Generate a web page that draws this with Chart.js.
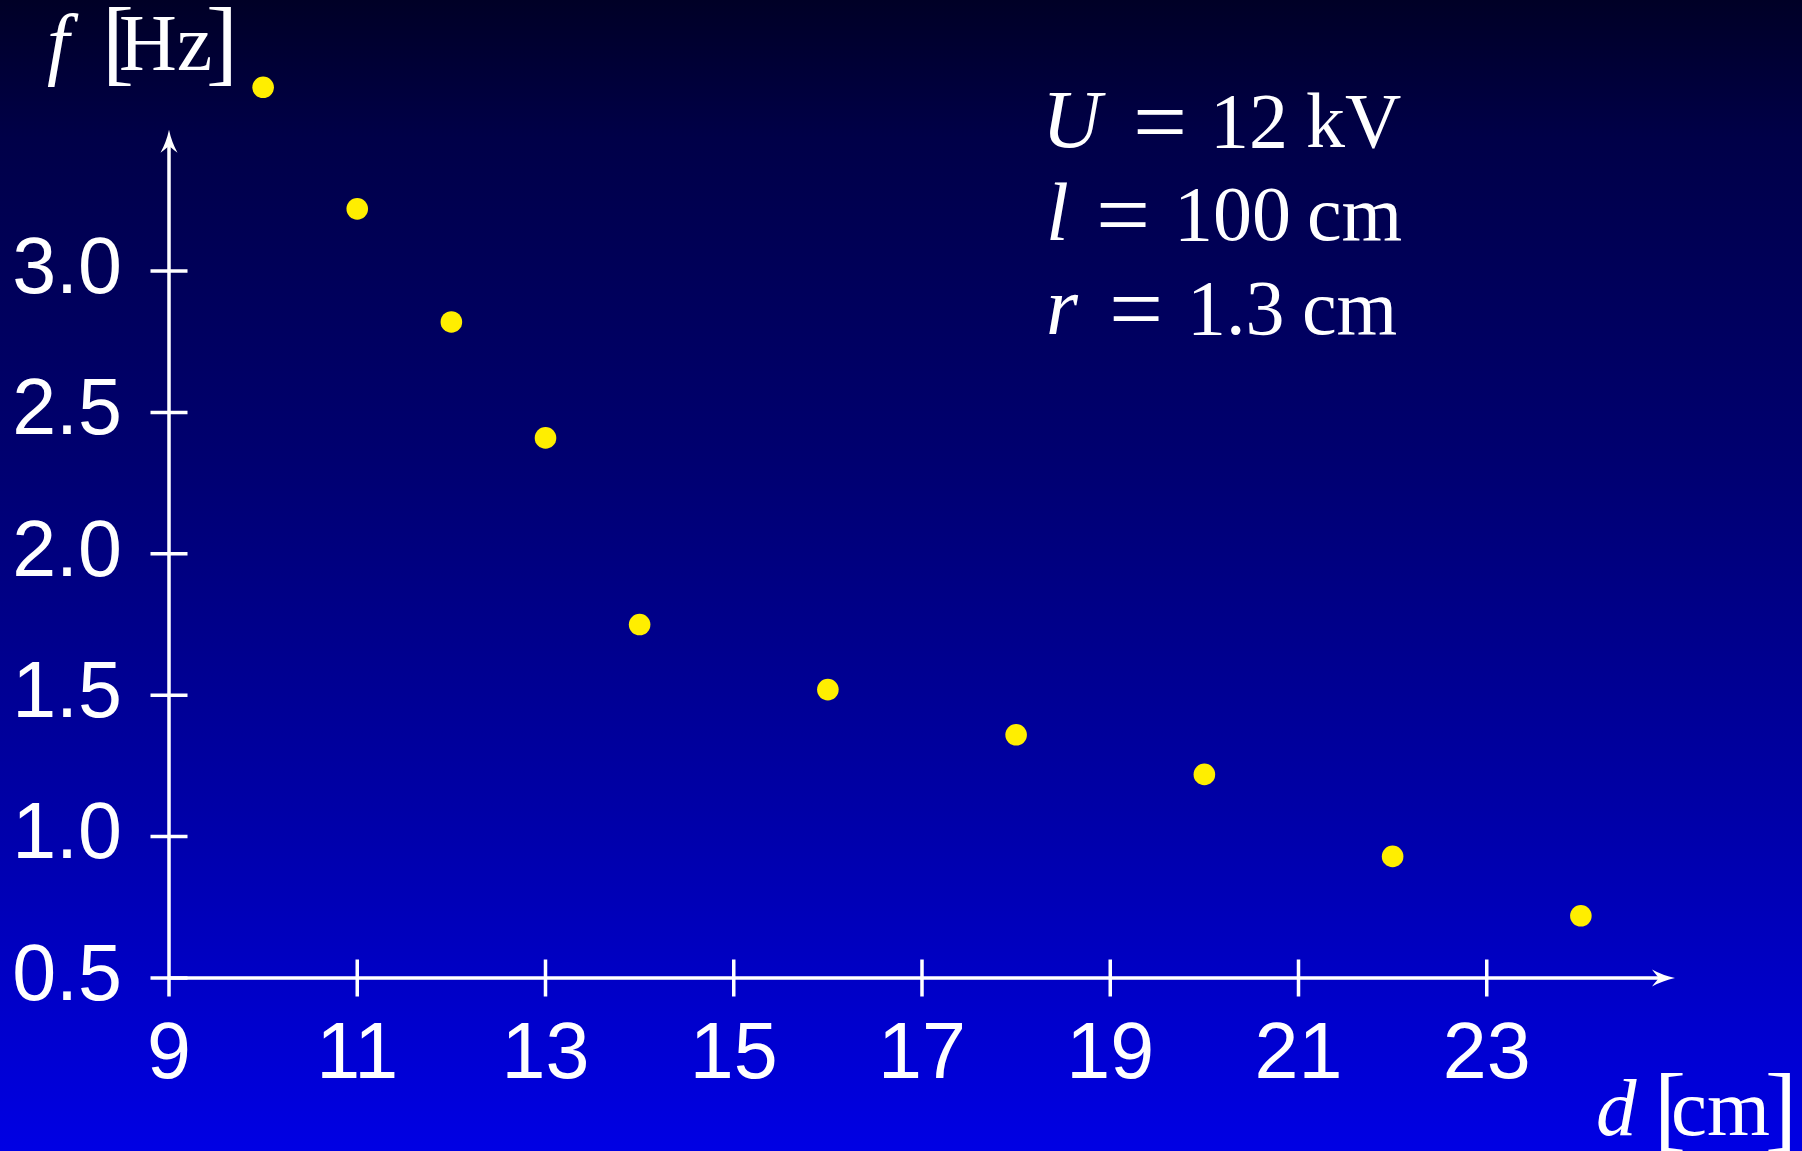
<!DOCTYPE html>
<html>
<head>
<meta charset="utf-8">
<script src="https://cdn.jsdelivr.net/npm/chart.js@4/dist/chart.umd.min.js"></script>
<style>
  html, body { margin: 0; padding: 0; background: #000040; }
  canvas { display: block; }
</style>
</head>
<body>
<canvas id="c" width="1802" height="1151"></canvas>
<script>
// ---- data ----
const distances = [10, 11, 12, 13, 14, 16, 18, 20, 22, 24];          // d [cm]
const frequencies = [3.65, 3.22, 2.82, 2.41, 1.75, 1.52, 1.36, 1.22, 0.93, 0.72]; // f [Hz]
const xTickValues = [9, 11, 13, 15, 17, 19, 21, 23];
const xTickLabels = ['9', '11', '13', '15', '17', '19', '21', '23'];
const yTickValues = [0.5, 1.0, 1.5, 2.0, 2.5, 3.0];
const yTickLabels = ['0.5', '1.0', '1.5', '2.0', '2.5', '3.0'];
const xAxisEnd = 25;
const yAxisEnd = 3.5;

const SERIF = '"Liberation Serif", "Times New Roman", serif';
const SANS = '"Liberation Sans", Arial, Helvetica, sans-serif';

function labelFor(values, labels, v) {
  for (let i = 0; i < values.length; i++) {
    if (Math.abs(values[i] - v) < 1e-6) return labels[i];
  }
  return '';
}

const backgroundPlugin = {
  id: 'bg',
  beforeDraw(chart) {
    const ctx = chart.ctx;
    const h = chart.height;
    const g = ctx.createLinearGradient(0, 0, 0, h);
    g.addColorStop(0, '#000026');
    g.addColorStop(0.12, '#000048');
    g.addColorStop(0.4, '#000070');
    g.addColorStop(0.7, '#0000a6');
    g.addColorStop(1, '#0000e4');
    ctx.save();
    ctx.fillStyle = g;
    ctx.fillRect(0, 0, chart.width, h);
    ctx.restore();
  }
};

function arrowHead(ctx, tx, ty, dirx, diry) {
  // concave LaTeX-style arrow head pointing in (dirx, diry)
  const L = 23, W = 8.5, notch = 16;
  const px = -diry, py = dirx;
  ctx.beginPath();
  ctx.moveTo(tx, ty);
  ctx.quadraticCurveTo(tx - dirx * 12 + px * 2.5, ty - diry * 12 + py * 2.5,
                       tx - dirx * L + px * W, ty - diry * L + py * W);
  ctx.quadraticCurveTo(tx - dirx * (notch + 2) + px * 2, ty - diry * (notch + 2) + py * 2,
                       tx - dirx * notch, ty - diry * notch);
  ctx.quadraticCurveTo(tx - dirx * (notch + 2) - px * 2, ty - diry * (notch + 2) - py * 2,
                       tx - dirx * L - px * W, ty - diry * L - py * W);
  ctx.quadraticCurveTo(tx - dirx * 12 - px * 2.5, ty - diry * 12 - py * 2.5, tx, ty);
  ctx.closePath();
  ctx.fill();
}

const axesPlugin = {
  id: 'arrowAxes',
  beforeDatasetsDraw(chart) {
    const ctx = chart.ctx;
    const xs = chart.scales.x, ys = chart.scales.y;
    const x0 = xs.getPixelForValue(xs.min);
    const y0 = ys.getPixelForValue(ys.min);
    const xEnd = xs.getPixelForValue(xAxisEnd);
    const yEnd = ys.getPixelForValue(yAxisEnd);
    ctx.save();
    ctx.strokeStyle = '#ffffff';
    ctx.fillStyle = '#ffffff';
    ctx.lineWidth = 3.5;
    ctx.lineCap = 'butt';
    // axis lines
    ctx.beginPath();
    ctx.moveTo(x0, y0);
    ctx.lineTo(xEnd - 14, y0);
    ctx.moveTo(x0, y0);
    ctx.lineTo(x0, yEnd + 14);
    ctx.stroke();
    arrowHead(ctx, xEnd, y0, 1, 0);
    arrowHead(ctx, x0, yEnd, 0, -1);
    // tick marks crossing the axes
    const t = 18.5;
    ctx.beginPath();
    xTickValues.forEach(v => {
      const px = xs.getPixelForValue(v);
      ctx.moveTo(px, y0 - (v === xs.min ? 0 : t));
      ctx.lineTo(px, y0 + t);
    });
    yTickValues.forEach(v => {
      const py = ys.getPixelForValue(v);
      ctx.moveTo(x0 - t, py);
      ctx.lineTo(x0 + t, py);
    });
    ctx.stroke();
    ctx.restore();
  }
};

function drawRuns(ctx, runs) {
  runs.forEach(r => {
    ctx.save();
    ctx.font = r.font;
    ctx.textBaseline = 'alphabetic';
    ctx.textAlign = 'left';
    ctx.fillText(r.text, r.x, r.y);
    ctx.restore();
  });
}

const textPlugin = {
  id: 'mathText',
  afterDraw(chart, args, opts) {
    const ctx = chart.ctx;
    ctx.save();
    ctx.fillStyle = '#ffffff';
    opts.blocks.forEach(b => drawRuns(ctx, b));
    ctx.restore();
  }
};

const it = s => 'italic ' + s + 'px ' + SERIF;
const rm = s => s + 'px ' + SERIF;

new Chart(document.getElementById('c'), {
  type: 'scatter',
  data: {
    datasets: [{
      data: distances.map((d, i) => ({ x: d, y: frequencies[i] })),
      backgroundColor: '#ffee00',
      borderWidth: 0,
      pointRadius: 10.8,
      pointHoverRadius: 10.8,
      clip: false
    }]
  },
  options: {
    responsive: false,
    devicePixelRatio: 1,
    animation: false,
    events: [],
    layout: { padding: { left: 0, right: 127, top: 59, bottom: 0 } },
    plugins: {
      legend: { display: false },
      tooltip: { enabled: false },
      mathText: {
        blocks: [
          // y-axis label  f [Hz]
          [
            { text: 'f', font: it(80), x: 47, y: 70 },
            { text: '[', font: rm(96), x: 102, y: 73 },
            { text: 'Hz', font: rm(80), x: 119, y: 70 },
            { text: ']', font: rm(96), x: 206, y: 73 }
          ],
          // x-axis label  d [cm]
          [
            { text: 'd', font: it(81), x: 1596, y: 1135 },
            { text: '[', font: rm(96), x: 1654, y: 1139 },
            { text: 'cm', font: rm(81), x: 1671, y: 1135 },
            { text: ']', font: rm(96), x: 1765, y: 1139 }
          ],
          // parameters
          [
            { text: 'U', font: it(82), x: 1042, y: 147 },
            { text: '=', font: rm(96), x: 1133, y: 154 },
            { text: '12', font: rm(78), x: 1210, y: 147 },
            { text: 'kV', font: rm(78), x: 1306, y: 147 }
          ],
          [
            { text: 'l', font: it(82), x: 1046, y: 240 },
            { text: '=', font: rm(96), x: 1096, y: 247 },
            { text: '100', font: rm(78), x: 1174, y: 240 },
            { text: 'cm', font: rm(78), x: 1307, y: 240 }
          ],
          [
            { text: 'r', font: it(82), x: 1046, y: 334 },
            { text: '=', font: rm(96), x: 1109, y: 341 },
            { text: '1.3', font: rm(78), x: 1187, y: 334 },
            { text: 'cm', font: rm(78), x: 1302, y: 334 }
          ]
        ]
      }
    },
    scales: {
      x: {
        type: 'linear',
        min: 9,
        max: xAxisEnd,
        grid: { display: false, drawTicks: false },
        border: { display: false },
        ticks: {
          stepSize: 2,
          autoSkip: false,
          maxRotation: 0,
          padding: 31,
          color: '#ffffff',
          font: { family: SANS, size: 79 },
          callback: v => labelFor(xTickValues, xTickLabels, v)
        },
        afterFit: s => { s.height = 173; s.paddingLeft = 0; s.paddingRight = 0; }
      },
      y: {
        type: 'linear',
        min: 0.5,
        max: 3.75,
        grid: { display: false, drawTicks: false },
        border: { display: false },
        ticks: {
          stepSize: 0.5,
          autoSkip: false,
          padding: 47,
          color: '#ffffff',
          font: { family: SANS, size: 79 },
          callback: v => labelFor(yTickValues, yTickLabels, v)
        },
        afterFit: s => { s.width = 169; s.paddingTop = 0; s.paddingBottom = 0; }
      }
    }
  },
  plugins: [backgroundPlugin, axesPlugin, textPlugin]
});
</script>
</body>
</html>
